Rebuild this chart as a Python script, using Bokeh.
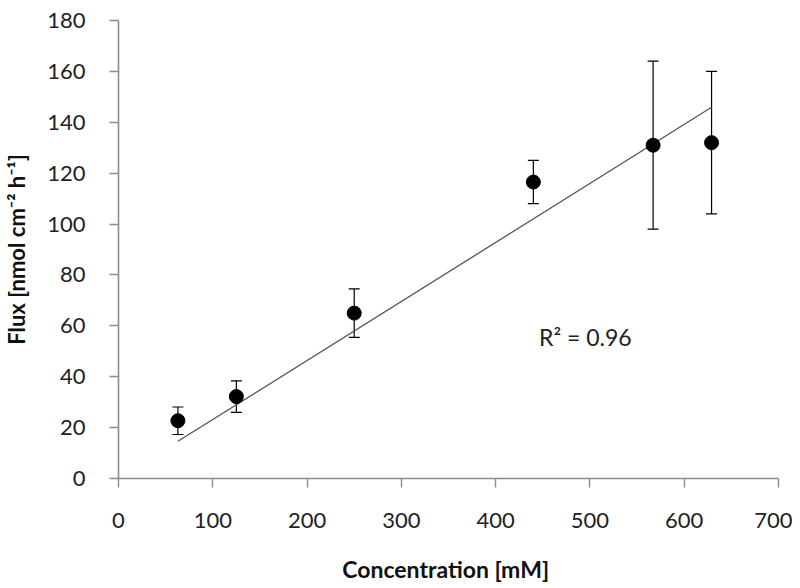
import numpy as np
from bokeh.plotting import figure
from bokeh.models import ColumnDataSource, Whisker, TeeHead, FixedTicker, Range1d, Label
from bokeh.embed import file_html
from bokeh.resources import INLINE

# data
concentration = [63, 125, 250, 440, 567, 629]
flux = [22.7, 32.2, 65.0, 116.5, 131.0, 132.0]
flux_err = [5.4, 6.2, 9.5, 8.5, 33.0, 28.0]
x_ticks = [0, 100, 200, 300, 400, 500, 600, 700]
y_ticks = [0, 20, 40, 60, 80, 100, 120, 140, 160, 180]
r2_text = "R\u00b2 = 0.96"

FONT = "Lato"
x = np.array(concentration, dtype=float)
y = np.array(flux, dtype=float)
e = np.array(flux_err, dtype=float)

# linear trendline through the origin
slope = float(np.sum(x * y) / np.sum(x * x))
fit_x = [x.min(), x.max()]
fit_y = [slope * v for v in fit_x]

p = figure(width=792, height=585, output_backend="svg", toolbar_location=None,
           x_range=Range1d(0, 700), y_range=Range1d(0, 180),
           min_border_left=117, min_border_right=14, min_border_top=20, min_border_bottom=102)
p.outline_line_color = None
p.grid.grid_line_color = None
p.background_fill_color = "white"

src = ColumnDataSource(dict(x=x, y=y, lo=y - e, hi=y + e))

p.line(fit_x, fit_y, line_color="#555555", line_width=1.3)

w = Whisker(source=src, base="x", upper="hi", lower="lo", line_color="black", line_width=1.2,
            upper_head=TeeHead(size=11, line_color="black", line_width=1.2),
            lower_head=TeeHead(size=11, line_color="black", line_width=1.2))
p.add_layout(w)

p.scatter("x", "y", source=src, size=14, fill_color="black", line_color="black")

p.add_layout(Label(x=446, y=55.5, text=r2_text, text_font=FONT, text_font_size="23px",
                   text_color="#222222", text_baseline="middle", text_align="left"))

for ax in (p.xaxis[0], p.yaxis[0]):
    ax.axis_line_color = "#8c8c8c"
    ax.axis_line_width = 1.6
    ax.major_tick_line_color = "#8c8c8c"
    ax.major_tick_line_width = 1.4
    ax.major_tick_out = 9
    ax.major_tick_in = 0
    ax.minor_tick_line_color = None
    ax.major_label_text_font = FONT
    ax.major_label_text_font_size = "22px"
    ax.major_label_text_color = "#222222"
    ax.axis_label_text_font = FONT
    ax.axis_label_text_font_style = "bold"
    ax.axis_label_text_color = "#111111"

p.xaxis.axis_label_text_font_size = "23px"
p.yaxis.axis_label_text_font_size = "22px"
p.xaxis.ticker = FixedTicker(ticks=x_ticks)
p.yaxis.ticker = FixedTicker(ticks=y_ticks)
p.xaxis.axis_label = "Concentration  [mM]"
p.yaxis.axis_label = "Flux [nmol cm\u207b\u00b2 h\u207b\u00b9]"
p.xaxis.major_label_standoff = 25
p.yaxis.major_label_standoff = 24
p.xaxis.axis_label_standoff = 24
p.yaxis.axis_label_standoff = 14

open("out.html", "w").write(file_html(p, INLINE))
